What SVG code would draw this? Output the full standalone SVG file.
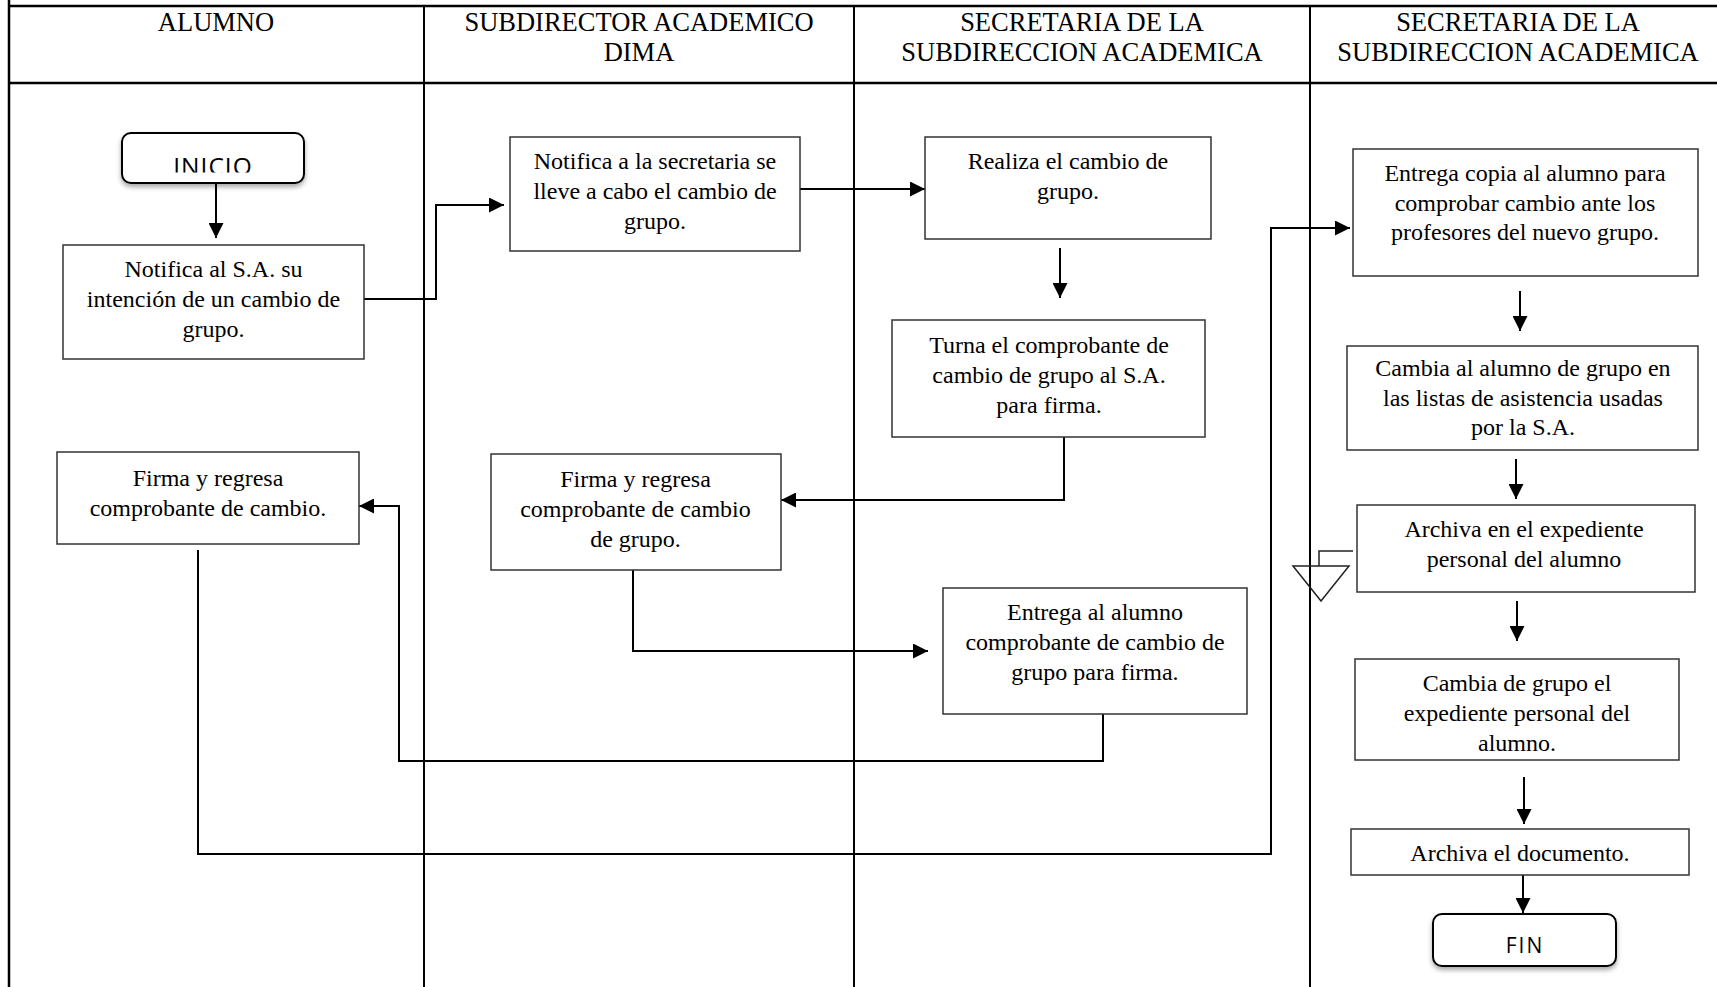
<svg xmlns="http://www.w3.org/2000/svg" width="1717" height="987" viewBox="0 0 1717 987">
  <style>
    .frame { stroke: #000; stroke-width: 2.5; fill: none; }
    .lane { stroke: #000; stroke-width: 2; fill: none; }
    .hdr { font-family: "Liberation Serif", "Times New Roman", serif; font-size: 26.5px; fill: #000; text-anchor: middle; }
    .box { fill: #fff; stroke: #333; stroke-width: 1.5; }
    .term { fill: #fff; stroke: #000; stroke-width: 2; }
    .txt { font-family: "Liberation Serif", "Times New Roman", serif; font-size: 24px; fill: #000; text-anchor: middle; }
    .ttxt { font-family: "Open Sans", "Liberation Sans", sans-serif; fill: #000; text-anchor: middle; }
    .conn { stroke: #000; stroke-width: 2; fill: none; }
    .thin { stroke: #222; stroke-width: 1.5; fill: none; }
  </style>
  <defs>
    <marker id="arrow" markerUnits="userSpaceOnUse" markerWidth="15" markerHeight="15" refX="15" refY="7.5" orient="auto">
      <path d="M0,0 L15,7.5 L0,15 z" fill="#000"/>
    </marker>
    <filter id="shadow" x="-10%" y="-20%" width="120%" height="160%">
      <feDropShadow dx="0" dy="3" stdDeviation="2.5" flood-color="#000" flood-opacity="0.35"/>
    </filter>
    <clipPath id="inicioClip">
      <rect x="130" y="140" width="170" height="32.5"/>
    </clipPath>
  </defs>

  <rect width="1717" height="987" fill="#fff"/>

  <!-- swimlane frame -->
  <g id="lanes">
    <line class="frame" x1="9" y1="0" x2="9" y2="987"/>
    <line class="frame" x1="9" y1="6" x2="1717" y2="6"/>
    <line class="frame" x1="9" y1="83" x2="1717" y2="83"/>
    <line class="lane" x1="424" y1="6" x2="424" y2="987"/>
    <line class="lane" x1="854" y1="6" x2="854" y2="987"/>
    <line class="lane" x1="1310" y1="6" x2="1310" y2="987"/>
    <text class="hdr" x="216" y="31">ALUMNO</text>
    <text class="hdr" x="639" y="31">SUBDIRECTOR ACADEMICO</text>
    <text class="hdr" x="639" y="61">DIMA</text>
    <text class="hdr" x="1082" y="31">SECRETARIA DE LA</text>
    <text class="hdr" x="1082" y="61">SUBDIRECCION ACADEMICA</text>
    <text class="hdr" x="1518" y="31">SECRETARIA DE LA</text>
    <text class="hdr" x="1518" y="61">SUBDIRECCION ACADEMICA</text>
  </g>

  <!-- connectors -->
  <g id="connectors">
    <path class="conn" d="M216 184 V238" marker-end="url(#arrow)"/>
    <path class="conn" d="M364 299 H436 V205 H504" marker-end="url(#arrow)"/>
    <path class="conn" d="M800 189 H925" marker-end="url(#arrow)"/>
    <path class="conn" d="M1060 248 V298" marker-end="url(#arrow)"/>
    <path class="conn" d="M1064 437 V500 H781" marker-end="url(#arrow)"/>
    <path class="conn" d="M633 570 V651 H928" marker-end="url(#arrow)"/>
    <path class="conn" d="M1103 714 V761 H399 V506 H359" marker-end="url(#arrow)"/>
    <path class="conn" d="M198 550 V854 H1271 V228 H1350" marker-end="url(#arrow)"/>
    <path class="conn" d="M1520 291 V331" marker-end="url(#arrow)"/>
    <path class="conn" d="M1516 459 V499" marker-end="url(#arrow)"/>
    <path class="conn" d="M1517 601 V641" marker-end="url(#arrow)"/>
    <path class="conn" d="M1524 777 V824" marker-end="url(#arrow)"/>
    <path class="conn" d="M1523 875 V913" marker-end="url(#arrow)"/>
    <path class="thin" d="M1353 551 H1319 V566"/>
  </g>

  <g id="inicio">
    <rect class="term" x="122" y="133" width="182" height="50" rx="9" filter="url(#shadow)"/>
    <text class="ttxt" x="213" y="174.5" font-size="24.5" letter-spacing="1" clip-path="url(#inicioClip)">INICIO</text>
  </g>

  <g id="n1">
    <rect class="box" x="63" y="245" width="301" height="114"/>
    <text class="txt" x="213.5" y="277">Notifica al S.A. su</text>
    <text class="txt" x="213.5" y="307">intención de un cambio de</text>
    <text class="txt" x="213.5" y="337">grupo.</text>
  </g>

  <g id="n2">
    <rect class="box" x="510" y="137" width="290" height="114"/>
    <text class="txt" x="655" y="169">Notifica a la secretaria se</text>
    <text class="txt" x="655" y="199">lleve a cabo el cambio de</text>
    <text class="txt" x="655" y="229">grupo.</text>
  </g>

  <g id="n3">
    <rect class="box" x="925" y="137" width="286" height="102"/>
    <text class="txt" x="1068" y="169">Realiza el cambio de</text>
    <text class="txt" x="1068" y="199">grupo.</text>
  </g>

  <g id="n4">
    <rect class="box" x="892" y="320" width="313" height="117"/>
    <text class="txt" x="1049" y="353">Turna el comprobante de</text>
    <text class="txt" x="1049" y="383">cambio de grupo al S.A.</text>
    <text class="txt" x="1049" y="413">para firma.</text>
  </g>

  <g id="n5">
    <rect class="box" x="491" y="454" width="290" height="116"/>
    <text class="txt" x="635.5" y="487">Firma y regresa</text>
    <text class="txt" x="635.5" y="517">comprobante de cambio</text>
    <text class="txt" x="635.5" y="547">de grupo.</text>
  </g>

  <g id="n6">
    <rect class="box" x="943" y="588" width="304" height="126"/>
    <text class="txt" x="1095" y="620">Entrega al alumno</text>
    <text class="txt" x="1095" y="650">comprobante de cambio de</text>
    <text class="txt" x="1095" y="680">grupo para firma.</text>
  </g>

  <g id="n7">
    <rect class="box" x="57" y="452" width="302" height="92"/>
    <text class="txt" x="208" y="486">Firma y regresa</text>
    <text class="txt" x="208" y="516">comprobante de cambio.</text>
  </g>

  <g id="n8">
    <rect class="box" x="1353" y="149" width="345" height="127"/>
    <text class="txt" x="1525" y="181">Entrega copia al alumno para</text>
    <text class="txt" x="1525" y="211">comprobar cambio ante los</text>
    <text class="txt" x="1525" y="240">profesores del nuevo grupo.</text>
  </g>

  <g id="n9">
    <rect class="box" x="1347" y="346" width="351" height="104"/>
    <text class="txt" x="1523" y="376">Cambia al alumno de grupo en</text>
    <text class="txt" x="1523" y="406">las listas de asistencia usadas</text>
    <text class="txt" x="1523" y="435">por la S.A.</text>
  </g>

  <g id="n10">
    <rect class="box" x="1357" y="505" width="338" height="87"/>
    <text class="txt" x="1524" y="537">Archiva en el expediente</text>
    <text class="txt" x="1524" y="567">personal del alumno</text>
  </g>

  <g id="archivo">
    <polygon class="thin" points="1293,566 1349,566 1321,601"/>
  </g>

  <g id="n11">
    <rect class="box" x="1355" y="659" width="324" height="101"/>
    <text class="txt" x="1517" y="691">Cambia de grupo el</text>
    <text class="txt" x="1517" y="721">expediente personal del</text>
    <text class="txt" x="1517" y="751">alumno.</text>
  </g>

  <g id="n12">
    <rect class="box" x="1351" y="829" width="338" height="46"/>
    <text class="txt" x="1520" y="861">Archiva el documento.</text>
  </g>

  <g id="fin">
    <rect class="term" x="1433" y="914" width="183" height="52" rx="9" filter="url(#shadow)"/>
    <text class="ttxt" x="1525" y="953" font-size="21" letter-spacing="2">FIN</text>
  </g>
</svg>
